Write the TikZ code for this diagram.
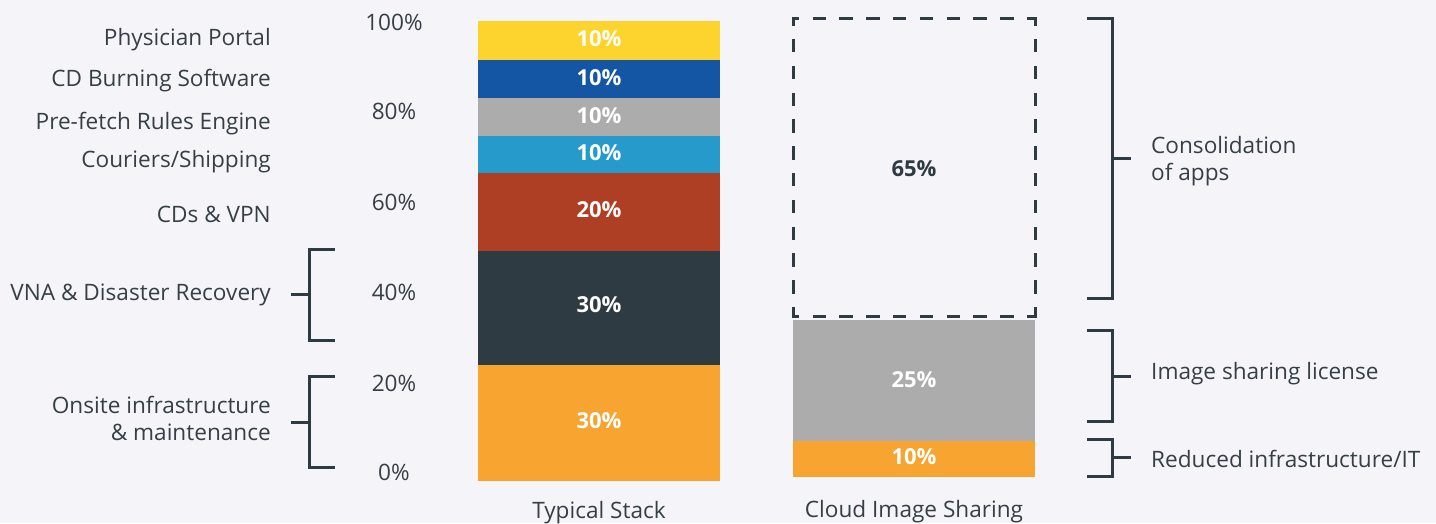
\documentclass[tikz,border=0pt]{standalone}
\usepackage{fontspec}
\setmainfont{Open Sans}
\definecolor{bg}{HTML}{F5F5F9}
\definecolor{ink}{HTML}{2F3B42}
\definecolor{txt}{HTML}{363F46}
\definecolor{cyellow}{HTML}{FDD42E}
\definecolor{cblue}{HTML}{1456A3}
\definecolor{cgrey}{HTML}{ABACAB}
\definecolor{clblue}{HTML}{279ACC}
\definecolor{cred}{HTML}{AE3E24}
\definecolor{cdark}{HTML}{2F3B42}
\definecolor{corange}{HTML}{F7A431}
\begin{document}
\begin{tikzpicture}[x=1pt,y=-1pt,
  lbl/.style={inner sep=0pt, font=\fontsize{22.6}{27}\selectfont, text=txt},
  lbll/.style={lbl, anchor=base east},
  lblr/.style={lbl, anchor=base west},
  axislbl/.style={lbl, anchor=base},
  pct/.style={inner sep=0pt, font=\fontsize{22}{27}\selectfont\bfseries, text=white, anchor=base},
  brk/.style={draw=ink, line width=3pt},
  seg/.style={draw=none, inner sep=0pt, outer sep=0pt, anchor=north west, minimum width=242pt},
  dashside/.style={draw=ink, line width=3pt, dash pattern=on 13.4pt off 13.4pt, dash phase=5.8pt}]
\useasboundingbox[fill=bg] (0,0) rectangle (1436,523);

% left labels
\node[lbll] (pp)  at (271,45)  {Physician Portal};
\node[lbll] (cdb) at (271,86)  {CD Burning Software};
\node[lbll] (pre) at (271,129.5) {Pre-fetch Rules Engine};
\node[lbll] (cou) at (271,167) {Couriers/Shipping};
\node[lbll] (cdv) at (271,222) {CDs \& VPN};
\node[lbll] (vna) at (271,300) {VNA \& Disaster Recovery};
\node[lbll] (on1) at (271,413) {Onsite infrastructure};
\node[lbll] (on2) at (271,440) {\& maintenance};

% left brackets
\coordinate (vt) at (335,249); \coordinate (vb) at (335,340);
\coordinate (vm) at (309,294); \coordinate (vtick) at (291,294);
\draw[brk] (vt) -- (309,249) -- (309,340) -- (vb);
\draw[brk] (vm) -- (vtick);
\coordinate (ot) at (335,376); \coordinate (ob) at (335,467);
\coordinate (om) at (309,422); \coordinate (otick) at (291,422);
\draw[brk] (ot) -- (309,376) -- (309,467) -- (ob);
\draw[brk] (om) -- (otick);

% axis labels
\node[axislbl] (a100) at (394,30)    {100\%};
\node[axislbl] (a80)  at (394,119.5) {80\%};
\node[axislbl] (a60)  at (394,210)   {60\%};
\node[axislbl] (a40)  at (394,300)   {40\%};
\node[axislbl] (a20)  at (394,391.5) {20\%};
\node[axislbl] (a0)   at (394,480.5) {0\%};

% typical stack
\node[seg, fill=cyellow, minimum height=39pt]  (s1) at (478,21)  {};
\node[seg, fill=cblue,   minimum height=38pt]  (s2) at (478,60)  {};
\node[seg, fill=cgrey,   minimum height=38pt]  (s3) at (478,98)  {};
\node[seg, fill=clblue,  minimum height=37pt]  (s4) at (478,136) {};
\node[seg, fill=cred,    minimum height=78pt]  (s5) at (478,173) {};
\node[seg, fill=cdark,   minimum height=114pt] (s6) at (478,251) {};
\node[seg, fill=corange, minimum height=116pt] (s7) at (478,365) {};
\node[pct] (p1) at (599,46.7)  {10\%};
\node[pct] (p2) at (599,85)    {10\%};
\node[pct] (p3) at (599,123)   {10\%};
\node[pct] (p4) at (599,160.7) {10\%};
\node[pct] (p5) at (599,217)   {20\%};
\node[pct] (p6) at (599,312.7) {30\%};
\node[pct] (p7) at (599,428.3) {30\%};
\node[lbl, anchor=base] (ts) at (599,518) {Typical Stack};

% cloud image sharing
\draw[dashside] (791.5,18) -- (1036.5,18);
\draw[dashside] (791.5,316) -- (1036.5,316);
\draw[dashside] (793,18) -- (793,316);
\draw[dashside] (1035,18) -- (1035,316);
\node[pct, text=ink] (c65) at (914,176.7) {65\%};
\node[seg, fill=cgrey,   minimum height=121pt] (c1) at (793,320) {};
\node[seg, fill=corange, minimum height=36pt]  (c2) at (793,441) {};
\node[pct] (c25) at (914,387) {25\%};
\node[pct] (c10) at (914,464) {10\%};
\node[lbl, anchor=base] (cis) at (914,517) {Cloud Image Sharing};

% right brackets
\coordinate (rt1) at (1087,18); \coordinate (rb1) at (1087,298);
\coordinate (rm1) at (1112,158); \coordinate (rk1) at (1131,158);
\draw[brk] (rt1) -- (1112,18) -- (1112,298) -- (rb1);
\draw[brk] (rm1) -- (rk1);
\coordinate (rt2) at (1087,330); \coordinate (rb2) at (1087,421);
\coordinate (rm2) at (1112,376); \coordinate (rk2) at (1131,376);
\draw[brk] (rt2) -- (1112,330) -- (1112,421) -- (rb2);
\draw[brk] (rm2) -- (rk2);
\coordinate (rt3) at (1087,439); \coordinate (rb3) at (1087,476);
\coordinate (rm3) at (1112,457); \coordinate (rk3) at (1131,457);
\draw[brk] (rt3) -- (1112,439) -- (1112,476) -- (rb3);
\draw[brk] (rm3) -- (rk3);

\node[lblr] (co1) at (1151,153) {Consolidation};
\node[lblr] (co2) at (1151,180) {of apps};
\node[lblr] (isl) at (1151,379) {Image sharing license};
\node[lblr] (rit) at (1151,467) {Reduced infrastructure/IT};
\end{tikzpicture}
\end{document}
